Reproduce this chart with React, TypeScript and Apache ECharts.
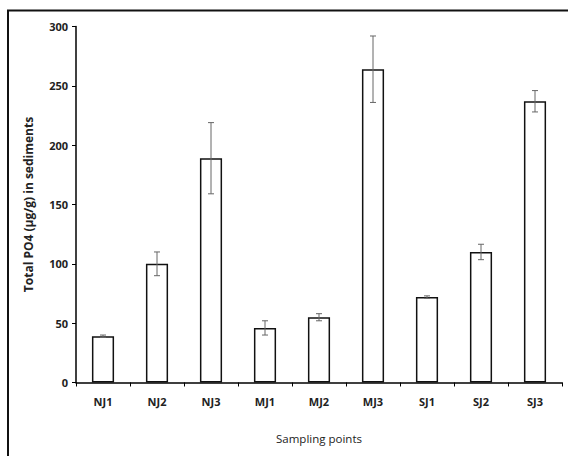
import React, { useEffect, useRef } from "react";
import * as echarts from "echarts";

const categories = ["NJ1", "NJ2", "NJ3", "MJ1", "MJ2", "MJ3", "SJ1", "SJ2", "SJ3"];
const values = [39, 100, 189, 46, 55, 264, 72, 110, 237];
const errors = [1, 10, 30, 6, 3, 28, 1, 6.5, 9];

const FONT = "'Liberation Sans Narrow', 'Open Sans', sans-serif";

export default function App() {
  const ref = useRef<HTMLDivElement>(null);
  useEffect(() => {
    if (!ref.current) return;
    const chart = echarts.init(ref.current, undefined, { renderer: "svg" });
    const errData = values.map((v, i) => [i, v - errors[i], v + errors[i]]);
    chart.setOption({
      animation: false,
      backgroundColor: "#fff",
      grid: { left: 76, right: 6, top: 26.5, bottom: 73.5 },
      graphic: [
        {
          type: "rect",
          shape: { x: 8, y: 10.5, width: 600, height: 500 },
          style: { fill: "none", stroke: "#111", lineWidth: 2 },
          silent: true,
        },
      ],
      xAxis: {
        type: "category",
        data: categories,
        name: "Sampling points",
        nameLocation: "middle",
        nameGap: 50,
        nameTextStyle: { fontFamily: "'Open Sans', sans-serif", fontSize: 11.5, color: "#222" },
        axisLine: { lineStyle: { color: "#000", width: 1.5 } },
        axisTick: { show: true, length: 4, inside: false, lineStyle: { color: "#000" } },
        axisLabel: { fontFamily: FONT, fontSize: 11, color: "#222", fontWeight: "bold", margin: 13 },
      },
      yAxis: {
        type: "value",
        min: 0,
        max: 300,
        interval: 50,
        name: "Total PO4 (µg/g) in sediments",
        nameLocation: "middle",
        nameGap: 42,
        nameTextStyle: { fontFamily: "'Open Sans', sans-serif", fontSize: 12, color: "#222", fontWeight: "bold" },
        axisLine: { show: true, lineStyle: { color: "#000", width: 1.5 } },
        axisTick: { show: true, length: 4, lineStyle: { color: "#000" } },
        axisLabel: { fontFamily: FONT, fontSize: 11, color: "#222", fontWeight: "bold", margin: 8 },
        splitLine: { show: false },
      },
      series: [
        {
          type: "bar",
          data: values,
          barWidth: "41%",
          itemStyle: { color: "#fff", borderColor: "#111", borderWidth: 1.5 },
        },
        {
          type: "custom",
          data: errData,
          z: 10,
          renderItem: (params: any, api: any) => {
            const x = api.value(0);
            const lo = api.coord([x, api.value(1)]);
            const hi = api.coord([x, api.value(2)]);
            const cw = 3;
            const style = { stroke: "#666", lineWidth: 1 };
            return {
              type: "group",
              children: [
                { type: "line", shape: { x1: lo[0], y1: lo[1], x2: hi[0], y2: hi[1] }, style },
                { type: "line", shape: { x1: lo[0] - cw, y1: lo[1], x2: lo[0] + cw, y2: lo[1] }, style },
                { type: "line", shape: { x1: hi[0] - cw, y1: hi[1], x2: hi[0] + cw, y2: hi[1] }, style },
              ],
            };
          },
        },
      ],
    });
    return () => chart.dispose();
  }, []);
  return (
    <div
      ref={ref}
      style={{ position: "absolute", left: 0, top: 0, width: 568, height: 456 }}
    />
  );
}
